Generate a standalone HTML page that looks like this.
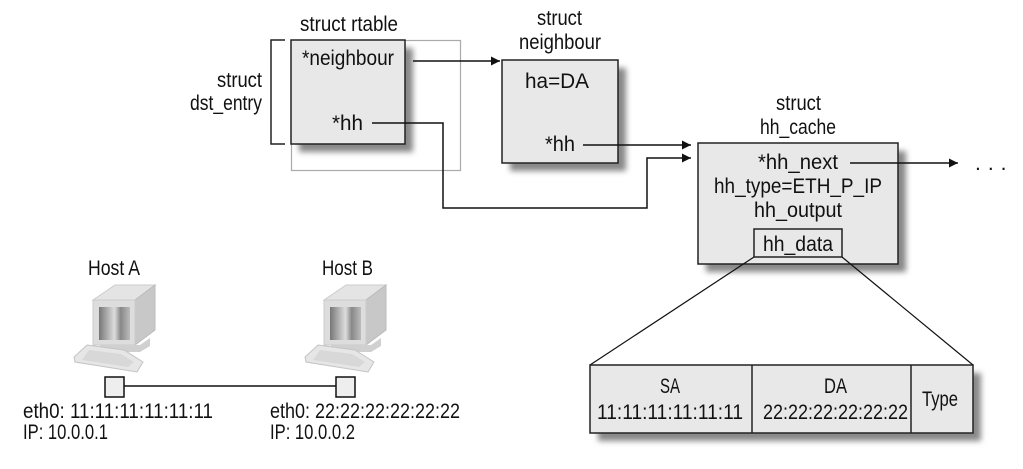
<!DOCTYPE html>
<html><head><meta charset="utf-8"><style>
html,body{margin:0;padding:0;background:#fff;}
svg{display:block;}
text{font-family:"Liberation Sans Narrow","Liberation Sans",sans-serif;font-size:21px;fill:#111;}
</style></head><body>
<svg width="1023" height="469" viewBox="0 0 1023 469" xmlns="http://www.w3.org/2000/svg">
<defs>
<filter id="sh" x="-20%" y="-20%" width="150%" height="150%"><feGaussianBlur stdDeviation="3"/></filter>
<marker id="ar" viewBox="0 0 10 10" refX="10" refY="5" markerWidth="14" markerHeight="9" markerUnits="userSpaceOnUse" orient="auto"><path d="M0,0 L10,5 L0,10 z" fill="#111"/></marker>
<linearGradient id="scr" x1="0" x2="1"><stop offset="0" stop-color="#777"/><stop offset="0.5" stop-color="#ddd"/><stop offset="0.7" stop-color="#888"/><stop offset="1" stop-color="#bbb"/></linearGradient>
</defs>
<rect x="299" y="48" width="114" height="104" fill="#888" filter="url(#sh)"/>
<rect x="510" y="68" width="116" height="103" fill="#888" filter="url(#sh)"/>
<rect x="706" y="151" width="200" height="121" fill="#888" filter="url(#sh)"/>
<rect x="598" y="373" width="383" height="68" fill="#888" filter="url(#sh)"/>

<rect x="291.5" y="40.5" width="169" height="130" fill="none" stroke="#aaa" stroke-width="1.2"/>
<rect x="291" y="40" width="114" height="104" fill="#e8e8e8" stroke="#222" stroke-width="1.5"/>
<text x="300" y="31" textLength="98" lengthAdjust="spacingAndGlyphs">struct rtable</text>
<text x="302" y="65" textLength="92" lengthAdjust="spacingAndGlyphs">*neighbour</text>
<text x="332" y="130" textLength="31" lengthAdjust="spacingAndGlyphs">*hh</text>
<path d="M285,40 H271 V144 H285" fill="none" stroke="#222" stroke-width="1.5"/>
<text x="217" y="87" textLength="45" lengthAdjust="spacingAndGlyphs">struct</text>
<text x="190" y="110" textLength="72" lengthAdjust="spacingAndGlyphs">dst_entry</text>

<rect x="502" y="60" width="116" height="103" fill="#e8e8e8" stroke="#222" stroke-width="1.5"/>
<text x="537" y="25" textLength="45" lengthAdjust="spacingAndGlyphs">struct</text>
<text x="519" y="49" textLength="82" lengthAdjust="spacingAndGlyphs">neighbour</text>
<text x="525" y="88" textLength="64" lengthAdjust="spacingAndGlyphs">ha=DA</text>
<text x="545" y="151" textLength="30" lengthAdjust="spacingAndGlyphs">*hh</text>

<rect x="698" y="143" width="200" height="121" fill="#e8e8e8" stroke="#222" stroke-width="1.5"/>
<text x="776" y="110" textLength="45" lengthAdjust="spacingAndGlyphs">struct</text>
<text x="760" y="134" textLength="76" lengthAdjust="spacingAndGlyphs">hh_cache</text>
<text x="758" y="169" textLength="80" lengthAdjust="spacingAndGlyphs">*hh_next</text>
<text x="714" y="193" textLength="168" lengthAdjust="spacingAndGlyphs">hh_type=ETH_P_IP</text>
<text x="754" y="217" textLength="88" lengthAdjust="spacingAndGlyphs">hh_output</text>
<rect x="754" y="229" width="88" height="28" fill="#e8e8e8" stroke="#222" stroke-width="1.5"/>
<text x="763" y="251" textLength="70" lengthAdjust="spacingAndGlyphs">hh_data</text>
<text x="975" y="170" style="letter-spacing:7px">...</text>

<g stroke="#111" stroke-width="1.5" fill="none">
<line x1="413" y1="61" x2="500" y2="61" marker-end="url(#ar)"/>
<path d="M372,123 H443 V208 H647 V158 H691" marker-end="url(#ar)"/>
<line x1="583" y1="145" x2="691" y2="145" marker-end="url(#ar)"/>
<line x1="850" y1="163" x2="958" y2="163" marker-end="url(#ar)"/>
<line x1="754" y1="257" x2="590" y2="365" stroke-width="1.2"/>
<line x1="842" y1="257" x2="973" y2="365" stroke-width="1.2"/>
</g>

<rect x="590" y="365" width="383" height="68" fill="#e8e8e8" stroke="#222" stroke-width="1.5"/>
<line x1="752" y1="365" x2="752" y2="433" stroke="#222" stroke-width="1.5"/>
<line x1="911" y1="365" x2="911" y2="433" stroke="#222" stroke-width="1.5"/>
<text x="660" y="393" textLength="20" lengthAdjust="spacingAndGlyphs">SA</text>
<text x="597" y="419" textLength="146" lengthAdjust="spacingAndGlyphs">11:11:11:11:11:11</text>
<text x="824" y="393" textLength="23" lengthAdjust="spacingAndGlyphs">DA</text>
<text x="763" y="419" textLength="145" lengthAdjust="spacingAndGlyphs">22:22:22:22:22:22</text>
<text x="922" y="406" textLength="36" lengthAdjust="spacingAndGlyphs">Type</text>

<g id="pc">
<polygon points="93,300 115,285 155,285 135,300" fill="#e4e4e4" stroke="#ccc"/>
<polygon points="135,300 155,285 155,330 135,345" fill="#c8c8c8" stroke="#bbb"/>
<rect x="93" y="300" width="42" height="45" fill="#ddd" stroke="#ccc"/>
<rect x="99" y="307" width="31" height="33" fill="url(#scr)"/>
<polygon points="100,345 140,345 150,338 150,346 140,352 100,352" fill="#d0d0d0"/>
<polygon points="87,345 124,350 143,362 137,372 75,362 74,357" fill="#e6e6e6" stroke="#c4c4c4"/>
<polygon points="89,350 121,354 134,362 128,367 82,360" fill="#d8d8d8"/>
</g>
<use href="#pc" transform="translate(231,0)"/>
<text x="88" y="275" textLength="52" lengthAdjust="spacingAndGlyphs">Host A</text>
<text x="322" y="275" textLength="51" lengthAdjust="spacingAndGlyphs">Host B</text>
<line x1="124" y1="386" x2="336" y2="386" stroke="#111" stroke-width="1.5"/>
<rect x="105" y="377" width="19" height="20" fill="#eee" stroke="#111" stroke-width="1.5"/>
<rect x="336" y="377" width="19" height="20" fill="#eee" stroke="#111" stroke-width="1.5"/>
<text x="23" y="418" textLength="190" lengthAdjust="spacingAndGlyphs">eth0: 11:11:11:11:11:11</text>
<text x="23" y="439" textLength="85" lengthAdjust="spacingAndGlyphs">IP: 10.0.0.1</text>
<text x="270" y="418" textLength="190" lengthAdjust="spacingAndGlyphs">eth0: 22:22:22:22:22:22</text>
<text x="270" y="439" textLength="85" lengthAdjust="spacingAndGlyphs">IP: 10.0.0.2</text>
</svg>
</body></html>
